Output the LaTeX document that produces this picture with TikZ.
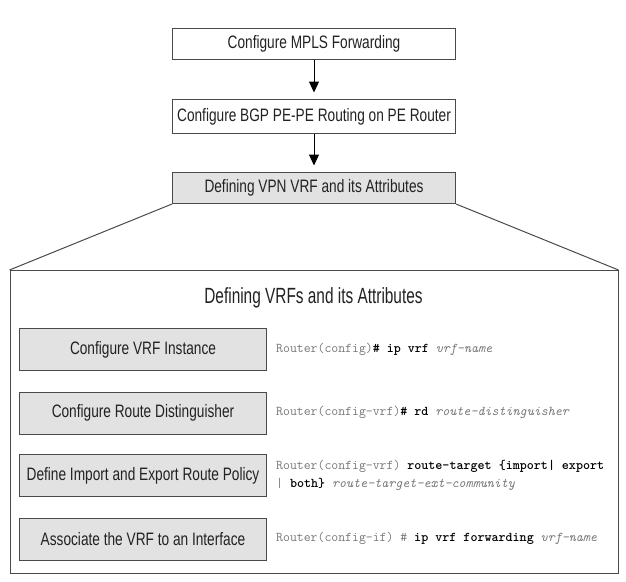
\documentclass[tikz,border=0pt]{standalone}
\usepackage{fontspec}
\newfontfamily\condfont{Liberation Sans}[FakeStretch=0.76]
\newfontfamily\titlefont{Liberation Sans}[FakeStretch=0.70]
\usetikzlibrary{arrows.meta}
\definecolor{boxgray}{HTML}{E2E2E2}
\definecolor{edgegray}{HTML}{4A4A4A}
\definecolor{codegray}{HTML}{777777}
\definecolor{txtdark}{HTML}{222222}
\newcommand{\cmdb}[1]{{\bfseries\color{black}#1}}
\newcommand{\cmdi}[1]{{\itshape #1}}
\begin{document}
\begin{tikzpicture}[x=1pt,y=-1pt,
  stepbox/.style={draw=edgegray, line width=1pt, minimum width=283pt, inner sep=0pt,
    anchor=north west, font=\condfont\fontsize{18}{20}\selectfont, text=txtdark},
  rowbox/.style={draw=edgegray, line width=1pt, fill=boxgray, minimum width=247pt,
    minimum height=42pt, inner sep=0pt, anchor=north west,
    font=\condfont\fontsize{18}{20}\selectfont, text=txtdark},
  bigbox/.style={draw=edgegray, line width=1pt, minimum width=608pt, minimum height=303pt,
    inner sep=0pt, anchor=north west},
  cmd/.style={anchor=west, inner sep=0pt, align=left, text=codegray,
    font=\ttfamily\fontsize{13.4}{18}\selectfont},
  flow/.style={draw=black, line width=1pt, -{Triangle[length=11pt,width=10pt]}, shorten >=6.5pt},
  fan/.style={draw=edgegray, line width=1pt}
]
\useasboundingbox (0,0) rectangle (626,581);
\node[stepbox, minimum height=31pt] (b1) at (172,27.5) {Configure MPLS Forwarding};
\node[stepbox, minimum height=34pt] (b2) at (172,99) {Configure BGP PE-PE Routing on PE Router};
\node[stepbox, minimum height=31pt, fill=boxgray] (b3) at (172,172) {Defining VPN VRF and its Attributes};
\draw[flow] (b1.south) -- (b2.north);
\draw[flow] (b2.south) -- (b3.north);
\node[bigbox] (big) at (9.5,270) {};
\draw[fan] (b3.south west) -- (big.north west);
\draw[fan] (b3.south east) -- (big.north east);
\node[font=\titlefont\fontsize{22}{24}\selectfont, text=txtdark, inner sep=0pt] (title) at (313.5,298) {Defining VRFs and its Attributes};
\node[rowbox] (r1) at (19,328) {Configure VRF Instance};
\node[rowbox] (r2) at (19,391.5) {Configure Route Distinguisher};
\node[rowbox] (r3) at (19,454) {Define Import and Export Route Policy};
\node[rowbox] (r4) at (19,517.5) {Associate the VRF to an Interface};
\node[cmd] (c1) at (276,349) {Router(config)\cmdb{\#} \cmdb{ip vrf} \cmdi{vrf-name}};
\node[cmd] (c2) at (276,412.5) {Router(config-vrf)\cmdb{\#} \cmdb{rd} \cmdi{route-distinguisher}};
\node[cmd] (c3) at (276,475) {Router(config-vrf) \cmdb{route-target \{import|} \cmdb{export}\\| \cmdb{both\}} \cmdi{route-target-ext-community}};
\node[cmd] (c4) at (276,538.5) {Router(config-if) \# \cmdb{ip vrf forwarding} \cmdi{vrf-name}};
\end{tikzpicture}
\end{document}
